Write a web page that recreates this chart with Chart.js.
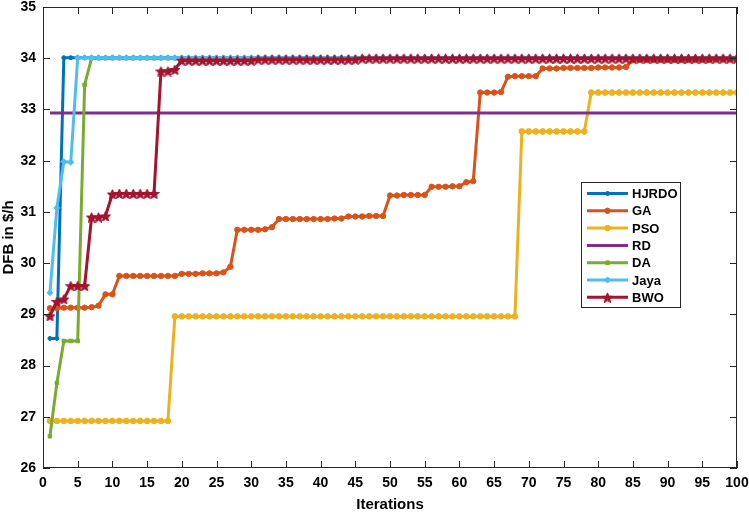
<!DOCTYPE html>
<html>
<head>
    <title>DFB convergence</title>
    <style>
        body {
            margin: 0;
            padding: 0;
            background-color: #fff;
        }
        .wrap {
            width: 749px;
            height: 514px;
            position: relative;
        }
    </style>
</head>
<body>
    <div class="wrap">
        <canvas id="convChart"></canvas>
    </div>

    <script src="https://cdn.jsdelivr.net/npm/chart.js@4"></script>
    <script>
        const seriesNames = ['HJRDO', 'GA', 'PSO', 'RD', 'DA', 'Jaya', 'BWO'];
        const yTicks = [26, 27, 28, 29, 30, 31, 32, 33, 34, 35];
        const xTicks = [0, 5, 10, 15, 20, 25, 30, 35, 40, 45, 50, 55, 60, 65, 70, 75, 80, 85, 90, 95, 100];

        const hjrdo = [
            28.53, 28.53, 34.01, 34.01, 34.01, 34.01, 34.01, 34.01, 34.01, 34.01,
            34.01, 34.01, 34.01, 34.01, 34.01, 34.01, 34.01, 34.01, 34.01, 34.01,
            34.01, 34.01, 34.01, 34.01, 34.01, 34.01, 34.01, 34.01, 34.01, 34.01,
            34.01, 34.01, 34.01, 34.01, 34.01, 34.01, 34.01, 34.01, 34.01, 34.01,
            34.01, 34.01, 34.01, 34.01, 34.01, 34.01, 34.01, 34.01, 34.01, 34.01,
            34.01, 34.01, 34.01, 34.01, 34.01, 34.01, 34.01, 34.01, 34.01, 34.01,
            34.01, 34.01, 34.01, 34.01, 34.01, 34.01, 34.01, 34.01, 34.01, 34.01,
            34.01, 34.01, 34.01, 34.01, 34.01, 34.01, 34.01, 34.01, 34.01, 34.01,
            34.01, 34.01, 34.01, 34.01, 34.01, 34.01, 34.01, 34.01, 34.01, 34.01,
            34.01, 34.01, 34.01, 34.01, 34.01, 34.01, 34.01, 34.01, 34.01, 34.01
        ];
        const ga = [
            29.12, 29.12, 29.13, 29.13, 29.13, 29.13, 29.14, 29.17, 29.39, 29.39,
            29.75, 29.75, 29.75, 29.75, 29.75, 29.75, 29.75, 29.75, 29.75, 29.79,
            29.79, 29.79, 29.80, 29.80, 29.80, 29.82, 29.93, 30.65, 30.65, 30.65,
            30.65, 30.66, 30.70, 30.86, 30.86, 30.86, 30.86, 30.86, 30.86, 30.86,
            30.86, 30.87, 30.87, 30.91, 30.91, 30.91, 30.92, 30.92, 30.92, 31.32,
            31.32, 31.33, 31.33, 31.33, 31.33, 31.49, 31.49, 31.49, 31.50, 31.50,
            31.58, 31.60, 33.33, 33.33, 33.33, 33.34, 33.64, 33.65, 33.65, 33.65,
            33.65, 33.80, 33.80, 33.80, 33.81, 33.81, 33.81, 33.81, 33.81, 33.82,
            33.82, 33.82, 33.82, 33.83, 33.96, 33.97, 33.97, 33.97, 33.97, 33.97,
            33.97, 33.97, 33.97, 33.97, 33.97, 33.97, 33.98, 33.98, 33.98, 33.98
        ];
        const pso = [
            26.92, 26.92, 26.92, 26.92, 26.92, 26.92, 26.92, 26.92, 26.92, 26.92,
            26.92, 26.92, 26.92, 26.92, 26.92, 26.92, 26.92, 26.92, 28.96, 28.96,
            28.96, 28.96, 28.96, 28.96, 28.96, 28.96, 28.96, 28.96, 28.96, 28.96,
            28.96, 28.96, 28.96, 28.96, 28.96, 28.96, 28.96, 28.96, 28.96, 28.96,
            28.96, 28.96, 28.96, 28.96, 28.96, 28.96, 28.96, 28.96, 28.96, 28.96,
            28.96, 28.96, 28.96, 28.96, 28.96, 28.96, 28.96, 28.96, 28.96, 28.96,
            28.96, 28.96, 28.96, 28.96, 28.96, 28.96, 28.96, 28.96, 32.57, 32.57,
            32.57, 32.57, 32.57, 32.57, 32.57, 32.57, 32.57, 32.57, 33.33, 33.33,
            33.33, 33.33, 33.33, 33.33, 33.33, 33.33, 33.33, 33.33, 33.33, 33.33,
            33.33, 33.33, 33.33, 33.33, 33.33, 33.33, 33.33, 33.33, 33.33, 33.33
        ];
        const rd = [
            32.93, 32.93, 32.93, 32.93, 32.93, 32.93, 32.93, 32.93, 32.93, 32.93,
            32.93, 32.93, 32.93, 32.93, 32.93, 32.93, 32.93, 32.93, 32.93, 32.93,
            32.93, 32.93, 32.93, 32.93, 32.93, 32.93, 32.93, 32.93, 32.93, 32.93,
            32.93, 32.93, 32.93, 32.93, 32.93, 32.93, 32.93, 32.93, 32.93, 32.93,
            32.93, 32.93, 32.93, 32.93, 32.93, 32.93, 32.93, 32.93, 32.93, 32.93,
            32.93, 32.93, 32.93, 32.93, 32.93, 32.93, 32.93, 32.93, 32.93, 32.93,
            32.93, 32.93, 32.93, 32.93, 32.93, 32.93, 32.93, 32.93, 32.93, 32.93,
            32.93, 32.93, 32.93, 32.93, 32.93, 32.93, 32.93, 32.93, 32.93, 32.93,
            32.93, 32.93, 32.93, 32.93, 32.93, 32.93, 32.93, 32.93, 32.93, 32.93,
            32.93, 32.93, 32.93, 32.93, 32.93, 32.93, 32.93, 32.93, 32.93, 32.93
        ];
        const da = [
            26.62, 27.66, 28.48, 28.48, 28.48, 33.48, 34.00, 34.00, 34.00, 34.00,
            34.00, 34.00, 34.00, 34.00, 34.00, 34.00, 34.00, 34.00, 34.00, 34.00,
            34.00, 34.00, 34.00, 34.00, 34.00, 34.00, 34.00, 34.00, 34.00, 34.00,
            34.00, 34.00, 34.00, 34.00, 34.00, 34.00, 34.00, 34.00, 34.00, 34.00,
            34.00, 34.00, 34.00, 34.00, 34.00, 34.00, 34.00, 34.00, 34.00, 34.00,
            34.00, 34.00, 34.00, 34.00, 34.00, 34.00, 34.00, 34.00, 34.00, 34.00,
            34.00, 34.00, 34.00, 34.00, 34.00, 34.00, 34.00, 34.00, 34.00, 34.00,
            34.00, 34.00, 34.00, 34.00, 34.00, 34.00, 34.00, 34.00, 34.00, 34.00,
            34.00, 34.00, 34.00, 34.00, 34.00, 34.00, 34.00, 34.00, 34.00, 34.00,
            34.00, 34.00, 34.00, 34.00, 34.00, 34.00, 34.00, 34.00, 34.00, 34.00
        ];
        const jaya = [
            29.42, 31.08, 31.98, 31.97, 34.01, 34.01, 34.01, 34.01, 34.01, 34.01,
            34.01, 34.01, 34.01, 34.01, 34.01, 34.01, 34.01, 34.01, 34.01, 34.01,
            34.01, 34.01, 34.01, 34.01, 34.01, 34.01, 34.01, 34.01, 34.01, 34.01,
            34.01, 34.01, 34.01, 34.01, 34.01, 34.01, 34.01, 34.01, 34.01, 34.01,
            34.01, 34.01, 34.01, 34.01, 34.01, 34.01, 34.01, 34.01, 34.01, 34.01,
            34.01, 34.01, 34.01, 34.01, 34.01, 34.01, 34.01, 34.01, 34.01, 34.01,
            34.01, 34.01, 34.01, 34.01, 34.01, 34.01, 34.01, 34.01, 34.01, 34.01,
            34.01, 34.01, 34.01, 34.01, 34.01, 34.01, 34.01, 34.01, 34.01, 34.01,
            34.01, 34.01, 34.01, 34.01, 34.01, 34.01, 34.01, 34.01, 34.01, 34.01,
            34.01, 34.01, 34.01, 34.01, 34.01, 34.01, 34.01, 34.01, 34.01, 34.01
        ];
        const bwo = [
            28.97, 29.25, 29.30, 29.56, 29.56, 29.56, 30.90, 30.90, 30.92, 31.35,
            31.36, 31.36, 31.36, 31.36, 31.36, 31.36, 33.75, 33.75, 33.78, 33.96,
            33.96, 33.96, 33.96, 33.96, 33.96, 33.96, 33.96, 33.96, 33.96, 33.96,
            33.98, 33.98, 33.98, 33.98, 33.98, 33.98, 33.98, 33.98, 33.98, 33.98,
            33.98, 33.98, 33.98, 33.98, 33.98, 34.00, 34.00, 34.00, 34.00, 34.00,
            34.00, 34.00, 34.00, 34.00, 34.00, 34.00, 34.00, 34.00, 34.00, 34.00,
            34.00, 34.00, 34.00, 34.00, 34.00, 34.00, 34.00, 34.00, 34.00, 34.00,
            34.00, 34.00, 34.00, 34.00, 34.00, 34.00, 34.00, 34.00, 34.00, 34.00,
            34.00, 34.00, 34.00, 34.00, 34.00, 34.00, 34.00, 34.00, 34.00, 34.00,
            34.00, 34.00, 34.00, 34.00, 34.00, 34.00, 34.00, 34.00, 34.00, 34.00
        ];

        const iterations = hjrdo.map((v, i) => i + 1);
        const axisColor = '#262626';
        const font = 'Liberation Sans, Arial, sans-serif';

        // filled pentagram for BWO marker
        function starMarker(size, color) {
            const c = document.createElement('canvas');
            c.width = size; c.height = size;
            const g = c.getContext('2d');
            g.beginPath();
            for (let i = 0; i < 10; i++) {
                const r = i % 2 ? size * 0.22 : size * 0.48;
                const a = -Math.PI / 2 + i * Math.PI / 5;
                g.lineTo(size / 2 + r * Math.cos(a), size / 2 + 0.8 + r * Math.sin(a));
            }
            g.closePath();
            g.fillStyle = color;
            g.fill();
            g.strokeStyle = color;
            g.lineWidth = 1;
            g.stroke();
            return c;
        }

        function series(label, data, color, style, radius, order) {
            return {
                label: label,
                data: data,
                borderColor: color,
                backgroundColor: color,
                pointBackgroundColor: color,
                pointBorderColor: color,
                borderWidth: 3,
                pointStyle: style,
                pointRadius: radius,
                pointBorderWidth: style === 'star' ? 2.5 : 1,
                pointHoverRadius: radius,
                tension: 0,
                order: order
            };
        }

        const datasets = [
            series(seriesNames[0], hjrdo, '#0072BD', 'circle', 2, 6),
            series(seriesNames[1], ga, '#D95319', 'circle', 2.7, 5),
            series(seriesNames[2], pso, '#EDB120', 'star', 3.2, 4),
            series(seriesNames[3], rd, '#7E2F8E', false, 0, 3),
            series(seriesNames[4], da, '#77AC30', 'rect', 2.5, 2),
            series(seriesNames[5], jaya, '#4DBEEE', 'rectRot', 3, 1),
            series(seriesNames[6], bwo, '#A2142F', starMarker(11, '#A2142F'), 5.5, 0)
        ];

        // MATLAB-like box with inward ticks
        const framePlugin = {
            id: 'frame',
            afterDatasetsDraw(chart) {
                const { ctx, chartArea: a, scales } = chart;
                ctx.save();
                ctx.strokeStyle = axisColor;
                ctx.lineWidth = 1;
                ctx.strokeRect(Math.round(a.left) + 0.5, Math.round(a.top) + 0.5,
                    Math.round(a.width) - 1, Math.round(a.height) - 1);
                ctx.beginPath();
                xTicks.forEach(t => {
                    const px = Math.round(scales.x.getPixelForValue(t)) + 0.5;
                    ctx.moveTo(px, a.bottom); ctx.lineTo(px, a.bottom - 7);
                    ctx.moveTo(px, a.top); ctx.lineTo(px, a.top + 7);
                });
                yTicks.forEach(t => {
                    const py = Math.round(scales.y.getPixelForValue(t)) + 0.5;
                    ctx.moveTo(a.left, py); ctx.lineTo(a.left + 7, py);
                    ctx.moveTo(a.right, py); ctx.lineTo(a.right - 7, py);
                });
                ctx.stroke();
                ctx.restore();
            }
        };

        // legend box inside the plot
        const legendPlugin = {
            id: 'boxLegend',
            afterDraw(chart) {
                const ctx = chart.ctx;
                const left = 581, top = 182, w = 99, h = 125, rowH = 17.3;
                ctx.save();
                ctx.fillStyle = '#fff';
                ctx.fillRect(left, top, w, h);
                ctx.strokeStyle = axisColor;
                ctx.lineWidth = 1;
                ctx.strokeRect(left + 0.5, top + 0.5, w, h);
                ctx.font = 'bold 13px ' + font;
                ctx.textBaseline = 'middle';
                datasets.forEach((ds, i) => {
                    const cy = top + 11.5 + i * rowH;
                    ctx.strokeStyle = ds.borderColor;
                    ctx.lineWidth = 3;
                    ctx.beginPath();
                    ctx.moveTo(left + 6, cy);
                    ctx.lineTo(left + 47, cy);
                    ctx.stroke();
                    if (ds.pointStyle) {
                        ctx.fillStyle = ds.borderColor;
                        ctx.lineWidth = ds.pointBorderWidth;
                        Chart.helpers.drawPoint(ctx, {
                            pointStyle: ds.pointStyle,
                            radius: ds.pointRadius,
                            borderWidth: ds.pointBorderWidth,
                            rotation: 0
                        }, left + 26.5, cy);
                    }
                    ctx.fillStyle = '#000';
                    ctx.fillText(ds.label, left + 51, cy + 1);
                });
                ctx.restore();
            }
        };

        new Chart(document.getElementById('convChart'), {
            type: 'line',
            data: { labels: iterations, datasets: datasets },
            options: {
                responsive: true,
                maintainAspectRatio: false,
                animation: false,
                layout: { padding: 0, autoPadding: false },
                plugins: {
                    legend: { display: false },
                    tooltip: { enabled: false }
                },
                scales: {
                    x: {
                        type: 'linear',
                        min: 0,
                        max: 100,
                        afterBuildTicks: s => { s.ticks = xTicks.map(v => ({ value: v })); },
                        afterFit: s => {
                            s.height = 46;
                            s.paddingLeft = 0;
                            s.paddingRight = 12;
                        },
                        grid: { display: false, drawTicks: false },
                        border: { display: false },
                        ticks: {
                            color: '#000',
                            padding: 7,
                            maxRotation: 0,
                            autoSkip: false,
                            font: { family: font, weight: 'bold', size: 14 }
                        },
                        title: {
                            display: true,
                            text: 'Iterations',
                            color: '#000',
                            padding: { top: 2, bottom: 0 },
                            font: { family: font, weight: 'bold', size: 15 }
                        }
                    },
                    y: {
                        min: 26,
                        max: 35,
                        afterBuildTicks: s => { s.ticks = yTicks.map(v => ({ value: v })); },
                        afterFit: s => {
                            s.width = 43;
                            s.paddingTop = 7;
                            s.paddingBottom = 0;
                        },
                        grid: { display: false, drawTicks: false },
                        border: { display: false },
                        ticks: {
                            color: '#000',
                            padding: 7,
                            font: { family: font, weight: 'bold', size: 14 }
                        },
                        title: {
                            display: true,
                            text: 'DFB in $/h',
                            color: '#000',
                            padding: { top: 0, bottom: 0 },
                            font: { family: font, weight: 'bold', size: 15 }
                        }
                    }
                }
            },
            plugins: [framePlugin, legendPlugin]
        });
    </script>
</body>
</html>
